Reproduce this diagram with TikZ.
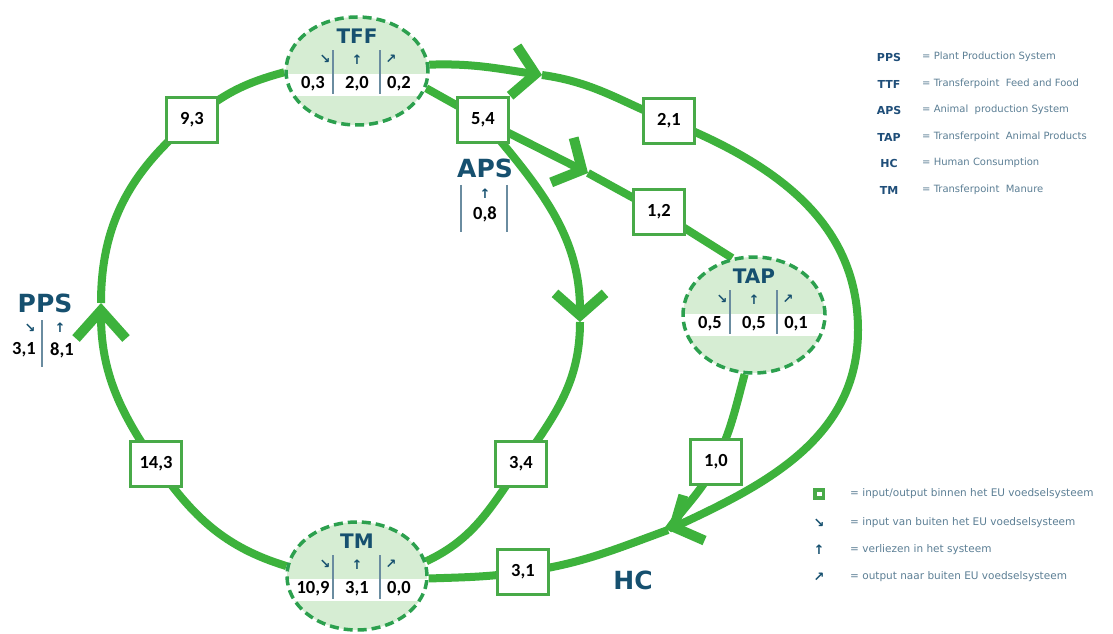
\documentclass[tikz,border=0pt]{standalone}
\usepackage{fontspec}
\setmainfont{Carlito}
\newfontfamily\dv{DejaVu Sans}
\usetikzlibrary{arrows.meta,backgrounds,shapes.geometric}
\definecolor{linegreen}{RGB}{61,178,60}
\definecolor{dashgreen}{RGB}{44,160,78}
\definecolor{lightgreen}{RGB}{214,237,211}
\definecolor{boxgreen}{RGB}{72,170,72}
\definecolor{titleblue}{RGB}{22,80,111}
\definecolor{divcol}{RGB}{106,140,160}
\definecolor{legblue}{RGB}{31,78,121}
\definecolor{leggray}{RGB}{92,127,149}
\newcommand{\mycomp}[9]{%
  \node[comp, minimum width=#4, minimum height=#5] (#1) at (#2,#3) {};
  \node[ttl] (#1-t) at ([yshift=-21pt]#1.north) {#6};
  \node[arr] (#1-a1) at ([xshift=-32pt,yshift=-44pt]#1.north) {↘};
  \node[arr] (#1-a2) at ([yshift=-44pt]#1.north) {↑};
  \node[arr] (#1-a3) at ([xshift=34pt,yshift=-44pt]#1.north) {↗};
  \node[num] (#1-n1) at ([xshift=-44pt,yshift=-68pt]#1.north) {#7};
  \node[num] (#1-n2) at ([yshift=-68pt]#1.north) {#8};
  \node[num] (#1-n3) at ([xshift=42pt,yshift=-68pt]#1.north) {#9};
  \draw[divider] ([xshift=-24pt,yshift=-35pt]#1.north) -- ([xshift=-24pt,yshift=-79pt]#1.north);
  \draw[divider] ([xshift=23pt,yshift=-35pt]#1.north) -- ([xshift=23pt,yshift=-79pt]#1.north);
}
\begin{document}
\begin{tikzpicture}[x=1pt,y=1pt,
  comp/.style={ellipse, draw=dashgreen, line width=3.5pt, dash pattern=on 9pt off 5pt,
    fill=lightgreen, inner sep=0pt,
    path picture={\fill[white] ([yshift=-57pt]path picture bounding box.north west) rectangle ([yshift=-79pt]path picture bounding box.north east);}},
  ttl/.style={font=\dv\bfseries\fontsize{20}{22}\selectfont, text=titleblue, inner sep=0pt},
  big/.style={font=\dv\bfseries\fontsize{25}{27}\selectfont, text=titleblue, inner sep=0pt},
  arr/.style={font=\dv\bfseries\fontsize{13}{15}\selectfont, text=titleblue, inner sep=0pt},
  num/.style={font=\bfseries\fontsize{18.5}{20}\selectfont, inner sep=0pt},
  divider/.style={draw=divcol, line width=1.3pt},
  box/.style={draw=boxgreen, line width=2.5pt, fill=white, minimum width=51pt, minimum height=45pt, inner sep=0pt, font=\bfseries\fontsize{18.5}{20}\selectfont},
  flow/.style={draw=linegreen, line width=8pt},
  tip/.style={-{Straight Barb[length=22pt,width=50pt,line width=10pt]}},
  tiplong/.style={-{Straight Barb[length=28pt,width=50pt,line width=10pt]}},
  lgabbr/.style={font=\dv\bfseries\fontsize{11}{13}\selectfont, text=legblue, inner sep=0pt},
  lgtext/.style={font=\dv\fontsize{10}{12}\selectfont, text=leggray, inner sep=0pt, anchor=west},
  lgtextb/.style={font=\dv\fontsize{10.5}{12}\selectfont, text=leggray, inner sep=0pt, anchor=west}
]
\useasboundingbox (0,0) rectangle (1113,633);

% compartments
\mycomp{tff}{357}{562}{142}{108}{TFF}{0,3}{2,0}{0,2}
\mycomp{tap}{754}{318}{142}{116}{TAP}{0,5}{0,5}{0,1}
\mycomp{tm}{357}{57}{140}{108}{TM}{10,9}{3,1}{0,0}

% flow boxes
\node[box] (b93) at (192,513) {9,3};
\node[box] (b54) at (483,513) {5,4};
\node[box] (b21) at (669,512) {2,1};
\node[box] (b12) at (659,421) {1,2};
\node[box] (b143) at (156,169) {14,3};
\node[box] (b34) at (521,169) {3,4};
\node[box] (b10) at (716,171) {1,0};
\node[box] (b31) at (523,61) {3,1};

% free points
\coordinate (ppsA) at (101,330);
\coordinate (apsA) at (580,311);
\coordinate (outA) at (542,558);
\coordinate (outR) at (858,303);
\coordinate (hcA) at (668,103);
\coordinate (a12) at (588,460);

% PPS
\node[big] (pps) at (45,330) {PPS};
\node[arr] (pps-a1) at (30,305) {↘};
\node[arr] (pps-a2) at (60,305) {↑};
\node[num] (pps-n1) at (24,283) {3,1};
\node[num] (pps-n2) at (62,283) {8,1};
\draw[divider] (42,313) -- (42,266);

% APS
\node[big] (aps) at (485,465) {APS};
\node[arr] (aps-a) at (485,439) {↑};
\node[num] (aps-n) at (485,419) {0,8};
\draw[divider] (461,448) -- (461,401);
\draw[divider] (507,448) -- (507,401);

% HC
\node[big] (hc) at (633,53) {HC};

% legend top
\node[lgabbr] (l1a) at (889,576) {PPS}; \node[lgtext] (l1b) at (922,576) {= Plant Production System};
\node[lgabbr] (l2a) at (889,549) {TTF}; \node[lgtext] (l2b) at (922,549) {= Transferpoint\ \ Feed and Food};
\node[lgabbr] (l3a) at (889,523) {APS}; \node[lgtext] (l3b) at (922,523) {= Animal\ \ production System};
\node[lgabbr] (l4a) at (889,496) {TAP}; \node[lgtext] (l4b) at (922,496) {= Transferpoint\ \ Animal Products};
\node[lgabbr] (l5a) at (889,470) {HC}; \node[lgtext] (l5b) at (922,470) {= Human Consumption};
\node[lgabbr] (l6a) at (889,443) {TM}; \node[lgtext] (l6b) at (922,443) {= Transferpoint\ \ Manure};

% legend bottom
\node[draw=boxgreen, fill=white, line width=3.5pt, minimum width=8.5pt, minimum height=8pt, inner sep=0pt] (lsq) at (819,139) {};
\node[lgtextb] (m1) at (850,139) {= input/output binnen het EU voedselsysteem};
\node[arr] (m2a) at (819,110) {↘}; \node[lgtextb] (m2) at (850,110) {= input van buiten het EU voedselsysteem};
\node[arr] (m3a) at (819,83) {↑}; \node[lgtextb] (m3) at (850,83) {= verliezen in het systeem};
\node[arr] (m4a) at (819,56) {↗}; \node[lgtextb] (m4) at (850,56) {= output naar buiten EU voedselsysteem};

% flows
\begin{scope}[on background layer]
\fill[white] (0,0) rectangle (1113,633);
% left loop: TM -> PPS -> TFF
\draw[flow,tiplong] (tm.172) to[out=163,in=-55] (b143.center) to[out=125,in=-90] (ppsA);
\draw[flow] (ppsA) to[out=90,in=-140] (b93.center) to[out=40,in=195] (tff.181);
% TFF -> APS
\draw[flow] (tff.-14) -- (b54.center);
% APS -> TM
\draw[flow,tip] (b54.center) to[out=-50,in=90] (apsA);
\draw[flow] (apsA) to[out=-90,in=55] (b34.center) to[out=-125,in=25] (tm.12);
% APS -> TAP
\draw[flow,tip] (b54.center) -- (a12);
\draw[flow] (a12) -- (b12.center) -- (tap.111);
% TFF -> HC outer
\draw[flow,tip] (tff.5) to[out=2,in=172] (outA);
\draw[flow,tip] (outA) to[out=-8,in=158] (b21.center) to[out=-22,in=90] (outR) to[out=-90,in=25] (hcA);
% TAP -> HC
\draw[flow] (tap.-99) to[out=-105,in=65] (b10.center) to[out=-115,in=55] (hcA);
% HC -> TM
\draw[flow] (hcA) to[out=200,in=8] (b31.center) to[out=188,in=2] (tm.-2);
\end{scope}
\end{tikzpicture}
\end{document}
